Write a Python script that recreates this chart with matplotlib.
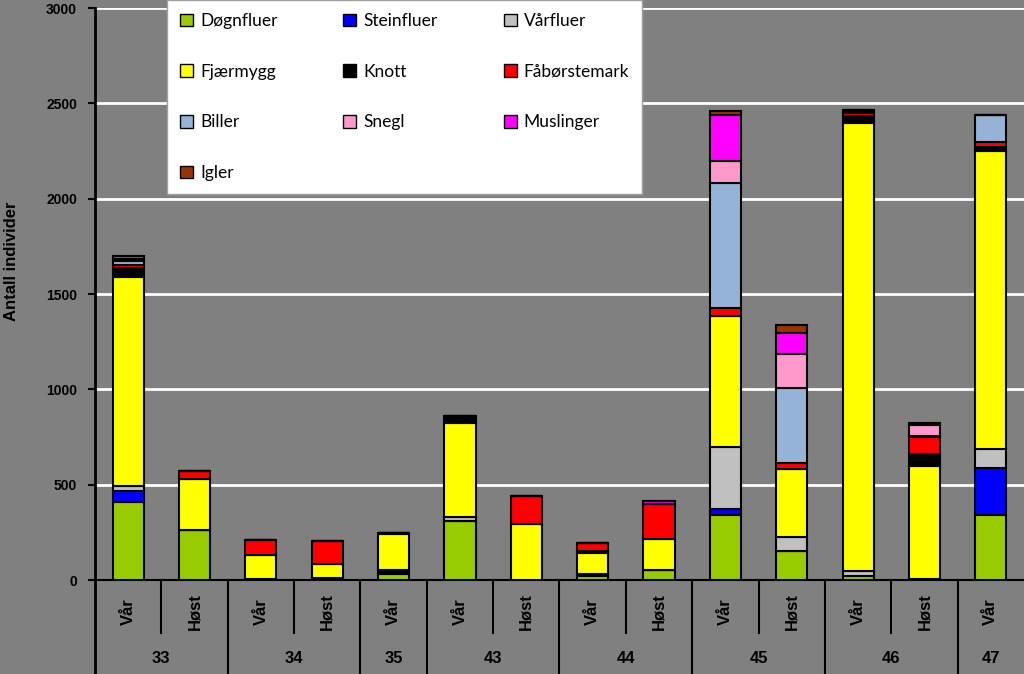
import numpy as np
import matplotlib.pyplot as plt
from matplotlib.patches import Patch

seasons = ["Vår", "Høst", "Vår", "Høst", "Vår", "Vår", "Høst",
           "Vår", "Høst", "Vår", "Høst", "Vår", "Høst", "Vår"]
groups = ["33", "34", "35", "43", "44", "45", "46", "47"]
group_sizes = [2, 2, 1, 2, 2, 2, 2, 1]

species = ["Døgnfluer", "Steinfluer", "Vårfluer", "Fjærmygg", "Knott",
           "Fåbørstemark", "Biller", "Snegl", "Muslinger", "Igler"]
colors = ["#99CC00", "#0000FF", "#C0C0C0", "#FFFF00", "#000000",
          "#FF0000", "#95B3D7", "#FF99CC", "#FF00FF", "#993300"]

dognfluer = [410, 260, 3, 10, 30, 311, 0, 20, 50, 339, 150, 20, 5, 343]
steinfluer = [55, 0, 0, 0, 12, 0, 0, 0, 0, 32, 0, 0, 0, 244]
varfluer = [30, 0, 0, 0, 12, 18, 0, 14, 0, 325, 74, 28, 0, 102]
fjaermygg = [1093, 272, 127, 74, 186, 496, 294, 110, 165, 689, 360, 2350, 593, 1559]
knott = [50, 0, 0, 0, 8, 35, 0, 8, 0, 0, 0, 35, 63, 25]
faborstemark = [12, 42, 80, 120, 0, 0, 146, 44, 185, 42, 28, 14, 91, 24]
biller = [25, 0, 0, 0, 0, 0, 0, 0, 0, 657, 395, 5, 5, 144]
snegl = [10, 0, 0, 0, 0, 0, 0, 0, 0, 115, 178, 12, 56, 0]
muslinger = [15, 0, 0, 0, 0, 0, 0, 0, 15, 242, 112, 0, 12, 0]
igler = [0, 0, 0, 0, 0, 0, 0, 0, 0, 21, 39, 0, 0, 0]

series = [dognfluer, steinfluer, varfluer, fjaermygg, knott,
          faborstemark, biller, snegl, muslinger, igler]

bg = "#808080"
fig = plt.figure(figsize=(10.24, 6.74), dpi=100, facecolor=bg)
ax = fig.add_axes([95 / 1024, 1 - 580 / 674, 929 / 1024, 572 / 674])
ax.set_facecolor(bg)

x = np.arange(len(seasons))
bottom = np.zeros(len(seasons))
handles = {}
for name, vals, c in zip(species, series, colors):
    vals = np.array(vals, dtype=float)
    ax.bar(x, vals, 0.47, bottom=bottom, color=c, edgecolor="black",
           linewidth=1.5, zorder=3)
    bottom += vals
    handles[name] = Patch(facecolor=c, edgecolor="black", label=name)

ax.set_xlim(-0.5, len(seasons) - 0.5)
ax.set_ylim(0, 3000)
ax.set_yticks(range(0, 3001, 500))
ax.yaxis.grid(True, color="white", linewidth=2)
ax.set_axisbelow(True)
ax.tick_params(axis="y", length=5, width=1.5, color="black", labelsize=10, pad=8)
for lab in ax.get_yticklabels():
    lab.set_fontweight("bold")
    lab.set_family("Liberation Sans")
ax.set_xticks([])
for s in ["top", "right"]:
    ax.spines[s].set_visible(False)
ax.spines["left"].set_linewidth(2)
ax.spines["bottom"].set_linewidth(1.5)

fig.text(12 / 1024, 1 - 261 / 674, "Antall individer", rotation=90,
         ha="center", va="center", fontsize=12, fontweight="bold",
         family="Liberation Sans")

# two-level category axis
trans = ax.get_xaxis_transform()
ax.plot([-0.5, -0.5], [0, -0.164], color="black", lw=2, transform=trans, clip_on=False)
for i, s in enumerate(seasons):
    ax.text(i, -0.055, s, rotation=90, ha="center", va="center", fontsize=12,
            fontweight="bold", family="Liberation Sans", transform=trans)
start = 0
for g, n in zip(groups, group_sizes):
    ax.text(start + (n - 1) / 2, -0.137, g, ha="center", va="center", fontsize=12,
            fontweight="bold", family="Liberation Sans", transform=trans)
    for k in range(1, n):
        ax.plot([start + k - 0.5] * 2, [0, -0.092], color="black", lw=1.5,
                transform=trans, clip_on=False)
    start += n
    if start < len(seasons):
        ax.plot([start - 0.5] * 2, [0, -0.164], color="black", lw=1.5,
                transform=trans, clip_on=False)

# row-major legend order (matplotlib fills columns first)
order = ["Døgnfluer", "Fjærmygg", "Biller", "Igler",
         "Steinfluer", "Knott", "Snegl",
         "Vårfluer", "Fåbørstemark", "Muslinger"]
leg = ax.legend(handles=[handles[n] for n in order], ncol=3, loc="upper left",
                bbox_to_anchor=(72 / 929, 1.014, 475 / 929, 0.0), mode="expand",
                prop={"family": "Lato", "size": 12.5}, handlelength=0.75,
                handleheight=0.75, handletextpad=0.4, labelspacing=2.0,
                borderpad=0.75, fancybox=False, framealpha=1, borderaxespad=0)
leg.get_frame().set_edgecolor("#A0A0A0")
leg.get_frame().set_linewidth(1)
leg.set_zorder(5)

fig.savefig("out.png", dpi=100, facecolor=bg)
